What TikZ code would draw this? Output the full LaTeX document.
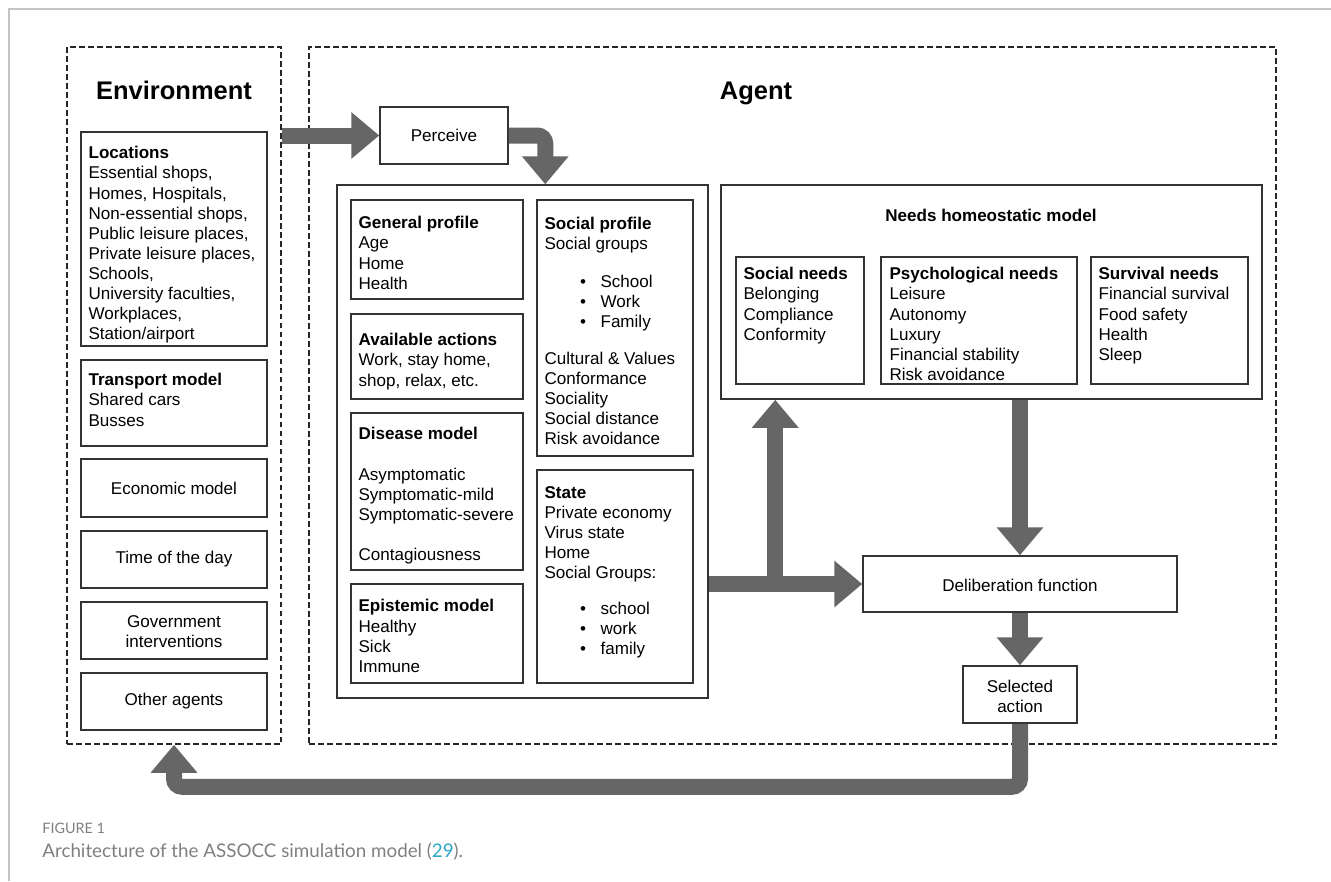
\documentclass[tikz,border=0pt]{standalone}
\usepackage{fontspec}
\setmainfont{Liberation Sans}
\newfontfamily\capfont{Lato}
\usetikzlibrary{arrows.meta,fit,calc}

\definecolor{flowgray}{HTML}{666666}
\definecolor{framegray}{HTML}{C4C4C4}
\definecolor{capgray}{HTML}{808080}
\definecolor{citeblue}{HTML}{2BA6C4}

\newcommand{\bodyfont}{\fontsize{9.7pt}{11.4pt}\selectfont}
\newcommand{\itm}[1]{\hspace*{7.1mm}\makebox[4.1mm][l]{\textbullet}#1}

\tikzset{
	panel/.style={draw=black!80, line width=0.3mm, inner sep=0pt},
	zone/.style={draw=black!85, line width=0.3mm, dash pattern=on 1.1mm off 0.7mm, inner sep=0pt},
	txt/.style={anchor=north west, align=left, inner sep=0pt, font=\bodyfont, execute at begin node=\strut},
	ctxt/.style={align=center, inner sep=0pt, font=\bodyfont},
	heading/.style={anchor=base, inner sep=0pt, font=\fontsize{14.5pt}{17pt}\selectfont\bfseries},
	flow/.style={color=flowgray, line width=3.2mm, rounded corners=1.6mm,
		-{Triangle[length=5.6mm,width=9mm]}},
}

\begin{document}
\begin{tikzpicture}[x=0.2mm,y=-0.2mm]
	\useasboundingbox (0,0) rectangle (1331,881);
	\draw[framegray, line width=0.4mm] (1331,9) -- (9,9) -- (9,881);

	% environment side
	\node[zone, fit={(67,47) (281,744)}] (env) {};
	\node[heading] (envtitle) at (174,99) {Environment};
	\node[panel, fit={(81,132) (267,346)}] (loc) {};
	\node[txt] at ([shift={(8,15)}]loc.north west) {\textbf{Locations}\\Essential shops,\\Homes, Hospitals,\\Non-essential shops,\\Public leisure places,\\Private leisure places,\\Schools,\\University faculties,\\Workplaces,\\Station/airport};
	\node[panel, fit={(81,360) (267,446)}] (trans) {};
	\node[txt] at ([shift={(8,14)}]trans.north west) {\textbf{Transport model}\\Shared cars\\Busses};
	\node[panel, fit={(81,459) (267,517)}] (eco) {};
	\node[ctxt] at (eco) {Economic model};
	\node[panel, fit={(81,531) (267,588)}] (tod) {};
	\node[ctxt] at (tod) {Time of the day};
	\node[panel, fit={(81,602) (267,659)}] (gov) {};
	\node[ctxt] at ([yshift=-0.3mm]gov.center) {Government\\interventions};
	\node[panel, fit={(81,673) (267,730)}] (other) {};
	\node[ctxt] at (other) {Other agents};

	% agent side
	\node[zone, fit={(309,47) (1276,744)}] (agent) {};
	\node[heading] (agtitle) at (756,99) {Agent};
	\node[panel, fit={(380,107) (508,164)}] (per) {};
	\node[ctxt] at (per) {Perceive};

	\node[panel, fit={(337,185) (708,698)}] (inner) {};
	\node[panel, fit={(351,200) (523,299)}] (gp) {};
	\node[txt] at ([shift={(8,17)}]gp.north west) {\textbf{General profile}\\Age\\Home\\Health};
	\node[panel, fit={(351,314) (523,399)}] (acts) {};
	\node[txt] at ([shift={(8,20)}]acts.north west) {\textbf{Available actions}\\Work, stay home,\\shop, relax, etc.};
	\node[panel, fit={(351,413) (523,570)}] (dis) {};
	\node[txt] at ([shift={(8,15)}]dis.north west) {\textbf{Disease model}\\[11.4pt]Asymptomatic\\Symptomatic-mild\\Symptomatic-severe\\[11.4pt]Contagiousness};
	\node[panel, fit={(351,584) (523,683)}] (epi) {};
	\node[txt] at ([shift={(8,16)}]epi.north west) {\textbf{Epistemic model}\\Healthy\\Sick\\Immune};
	\node[panel, fit={(537,200) (693,456)}] (sp) {};
	\node[txt] at ([shift={(8,18)}]sp.north west) {\textbf{Social profile}\\Social groups\\[9.7pt]\itm{School}\\\itm{Work}\\\itm{Family}\\[9.7pt]Cultural \& Values\\Conformance\\Sociality\\Social distance\\Risk avoidance};
	\node[panel, fit={(537,470) (693,683)}] (state) {};
	\node[txt] at ([shift={(8,17)}]state.north west) {\textbf{State}\\Private economy\\Virus state\\Home\\Social Groups:\\[9.2pt]\itm{school}\\\itm{work}\\\itm{family}};

	\node[panel, fit={(721,185) (1262,399)}] (needs) {};
	\node[inner sep=0pt, font=\bodyfont\bfseries] (needstitle) at (991,215) {Needs homeostatic model};
	\node[panel, fit={(736,257) (864,384)}] (socn) {};
	\node[txt] at ([shift={(8,11)}]socn.north west) {\textbf{Social needs}\\Belonging\\Compliance\\Conformity};
	\node[panel, fit={(881,257) (1077,384)}] (psyn) {};
	\node[txt] at ([shift={(9,11)}]psyn.north west) {\textbf{Psychological needs}\\Leisure\\Autonomy\\Luxury\\Financial stability\\Risk avoidance};
	\node[panel, fit={(1091,257) (1248,384)}] (surn) {};
	\node[txt] at ([shift={(8,11)}]surn.north west) {\textbf{Survival needs}\\Financial survival\\Food safety\\Health\\Sleep};

	\node[panel, fit={(863,556) (1177,612)}] (delib) {};
	\node[ctxt] at ([yshift=-0.3mm]delib.center) {Deliberation function};
	\node[panel, fit={(963,666) (1077,723)}] (sel) {};
	\node[ctxt] at ([yshift=-0.3mm]sel.center) {Selected\\action};

	% flows
	\coordinate (drop) at ($(inner.north west)+(209,0)$);
	\coordinate (fork) at ($(needs.south west |- delib.west)+(55,0)$);
	\draw[flow] (env.east |- per.west) -- (per.west);
	\draw[flow] (per.east) -| (drop);
	\draw[flow] (inner.east |- delib.west) -- (delib.west);
	\draw[flow] (fork) -- (fork |- needs.south);
	\draw[flow] (delib.north |- needs.south) -- (delib.north);
	\draw[flow] (delib.south) -- (sel.north);
	\draw[flow] (sel.south) |- ($(env.south)+(0,42)$) -- (env.south);

	% caption
	\node[anchor=base west, inner sep=0pt, text=capgray, font=\capfont\fontsize{8.2pt}{9pt}\selectfont] (fignum) at (42,833) {FIGURE 1};
	\node[anchor=base west, inner sep=0pt, text=capgray, font=\capfont\fontsize{10.7pt}{12pt}\selectfont] (caption) at (42,857) {Architecture of the ASSOCC simulation model (\textcolor{citeblue}{29}).};
\end{tikzpicture}
\end{document}
